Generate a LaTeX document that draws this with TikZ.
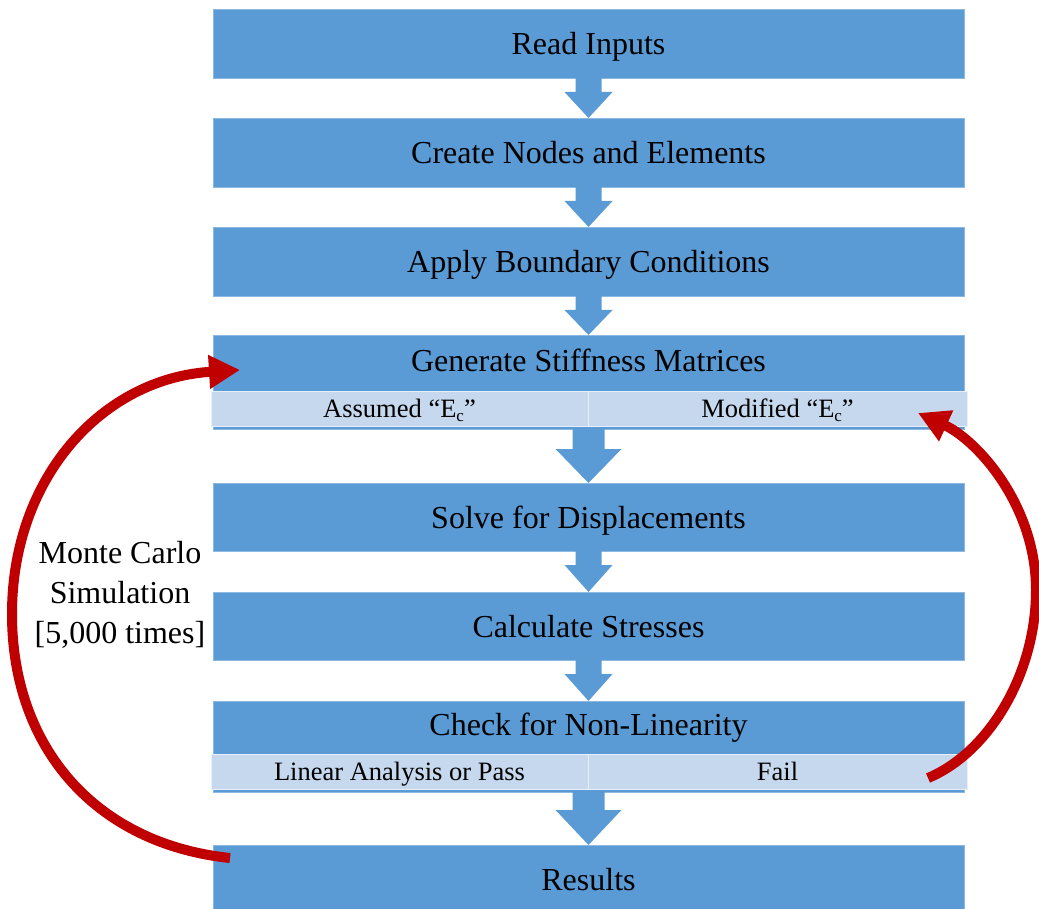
\documentclass[tikz,border=0pt]{standalone}
\usepackage{fontspec}
\setmainfont{Liberation Serif}
\usetikzlibrary{arrows.meta,calc}
\definecolor{boxblue}{HTML}{5B9BD5}
\definecolor{rowblue}{HTML}{C5D8ED}
\definecolor{loopred}{HTML}{C00000}
\tikzset{
  box/.style={fill=boxblue, draw=boxblue!70!white, line width=0.6pt, minimum width=751pt,
    inner sep=0pt, outer sep=0pt, font=\fontsize{32}{38}\selectfont, text height=27pt, text depth=5pt},
  boxtext/.style={font=\fontsize{32}{38}\selectfont, text height=23pt, text depth=7pt, inner sep=0pt},
  rowcell/.style={fill=rowblue, draw=white!60!rowblue, line width=0.8pt, inner sep=0pt, outer sep=0pt,
    minimum height=35pt, font=\fontsize{26.5}{32}\selectfont, text height=22pt, text depth=5pt},
  flowarrow/.style={fill=boxblue},
  redloop/.style={draw=loopred, line width=10pt, -{Triangle[length=31pt,width=32pt]}},
  mclabel/.style={align=center, font=\fontsize{32}{40}\selectfont, inner sep=0pt},
}
\newcommand{\subc}{\raisebox{-5pt}{\fontsize{17}{17}\selectfont c}}
\newcommand{\flowarr}[5]{%
  \fill[flowarrow] ($(#1.south)+(-#3,0)$) -- ($(#1.south)+(-#3,-#5)$) -- ($(#1.south)+(-#4,-#5)$)
    -- (#2.north) -- ($(#1.south)+(#4,-#5)$) -- ($(#1.south)+(#3,-#5)$) -- ($(#1.south)+(#3,0)$) -- cycle;}
\begin{document}
\begin{tikzpicture}[x=1pt,y=1pt]
\useasboundingbox (0,0) rectangle (1039,-909);

% boxes
\node[box, minimum height=69pt] (b1) at (588.5,-43.5) {Read Inputs};
\node[box, minimum height=69pt] (b2) at (588.5,-152.5) {Create Nodes and Elements};
\node[box, minimum height=69pt] (b3) at (588.5,-261.5) {Apply Boundary Conditions};
\node[box, minimum height=94pt] (b4) at (588.5,-382) {};
\node[boxtext] (t4) at (588.5,-363) {Generate Stiffness Matrices};
\node[rowcell, minimum width=377pt] (c4a) at (399.5,-408.5) {Assumed “E\subc”};
\node[rowcell, minimum width=379pt] (c4b) at (777.5,-408.5) {Modified “E\subc”};
\node[box, minimum height=68pt] (b5) at (588.5,-517) {Solve for Displacements};
\node[box, minimum height=68pt] (b6) at (588.5,-626) {Calculate Stresses};
\node[box, minimum height=91pt] (b7) at (588.5,-746.5) {};
\node[boxtext] (t7) at (588.5,-727.5) {Check for Non-Linearity};
\node[rowcell, minimum width=377pt] (c7a) at (399.5,-771.5) {Linear Analysis or Pass};
\node[rowcell, minimum width=379pt] (c7b) at (777.5,-771.5) {Fail};
\node[box, minimum height=69pt] (b8) at (588.5,-879.5) {Results};

% block arrows
\flowarr{b1}{b2}{13}{24}{14}
\flowarr{b2}{b3}{13}{24}{14}
\flowarr{b3}{b4}{13}{24}{14}
\flowarr{b4}{b5}{16}{33}{20}
\flowarr{b5}{b6}{13}{24}{14}
\flowarr{b6}{b7}{13}{24}{14}
\flowarr{b7}{b8}{16}{33}{18}

% Monte Carlo loop
\node[mclabel] (mc) at (120,-595) {Monte Carlo\\Simulation\\{[5,000 times]}};
\coordinate (mcS) at (230,-858);
\coordinate (mcL) at (12,-614);
\coordinate (mcE) at (240,-370);
\draw[redloop] (mcS) to[out=174, in=-90, looseness=1.05] (mcL) to[out=90, in=183.5, looseness=1.05] (mcE);

% Fail loop
\coordinate (fS) at (928,-778);
\coordinate (fR) at (1036,-590);
\coordinate (fE) at (918,-413);
\draw[redloop] (fS) .. controls (988,-753) and (1036,-675) .. (fR) .. controls (1036,-505) and (977,-440) .. (fE);
\end{tikzpicture}
\end{document}
